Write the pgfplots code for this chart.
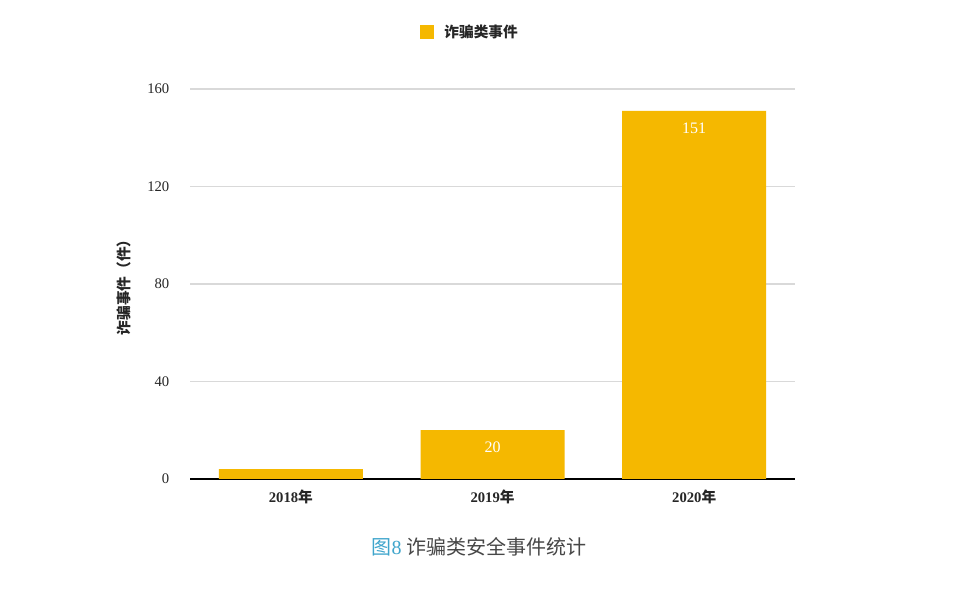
\documentclass[border=0pt]{standalone}
\usepackage{pgfplots}
\pgfplotsset{compat=1.18}
\usepackage{fontspec}
\setmainfont{Liberation Serif}
\newfontfamily\cjk{Noto Sans CJK SC}
\definecolor{barc}{HTML}{F5B800}
\definecolor{capblue}{HTML}{3FA5CC}
\definecolor{txt}{HTML}{262626}
\definecolor{gridc}{HTML}{D9D9D9}
\begin{document}
\begin{tikzpicture}
\path[use as bounding box, fill=white] (0,0) rectangle (720pt,448.5pt);
\begin{axis}[
  at={(142.5pt,89.25pt)}, anchor=south west,
  scale only axis, width=453.75pt, height=292.5pt,
  xmin=-0.5, xmax=2.5, ymin=0, ymax=160,
  xtick={0,1,2}, xticklabels={{2018\cjk\bfseries 年},{2019\cjk\bfseries 年},{2020\cjk\bfseries 年}},
  ytick={0,40,80,120,160},
  major tick length=0pt,
  axis x line=bottom, axis y line=left,
  x axis line style={black, line width=1.1pt, -},
  y axis line style={draw=none},
  ymajorgrids, grid style={gridc, line width=0.8pt},
  tick label style={font=\fontsize{11}{13}\selectfont, text=txt},
  xticklabel style={font=\fontsize{11}{13}\selectfont\bfseries, yshift=-5pt},
  yticklabel style={xshift=-12pt},
  /pgf/number format/assume math mode=true,
  ylabel={\cjk\bfseries 诈骗事件（件）},
  ylabel style={at={(axis description cs:-0.109,0.5)}, anchor=center, rotate=0, font=\fontsize{11}{13}\selectfont, text=txt},
  legend style={at={(axis description cs:0.463,1.146)}, anchor=center, draw=none, font=\fontsize{11}{13}\selectfont\cjk\bfseries, text=txt, column sep=6pt},
  legend image code/.code={\fill[barc] (0pt,-5.25pt) rectangle (10.5pt,5.25pt);},
  clip=false,
]
\addplot[ybar, bar width=108pt, fill=barc, draw=none]
  coordinates {(0,4) (1,20) (2,151)};
\addlegendentry{诈骗类事件}
\addplot[only marks, mark=none, forget plot, point meta=explicit symbolic,
  nodes near coords, nodes near coords align={center},
  every node near coord/.append style={text=white, font=\fontsize{12}{14}\selectfont}]
  coordinates {(0,7)[4] (1,13)[20] (2,144)[151]};
\node[anchor=center, font=\fontsize{15}{18}\selectfont] at (axis description cs:0.478,-0.174)
  {\textcolor{capblue}{{\cjk 图}8} \textcolor{txt!85}{\cjk 诈骗类安全事件统计}};
\end{axis}
\end{tikzpicture}
\end{document}
